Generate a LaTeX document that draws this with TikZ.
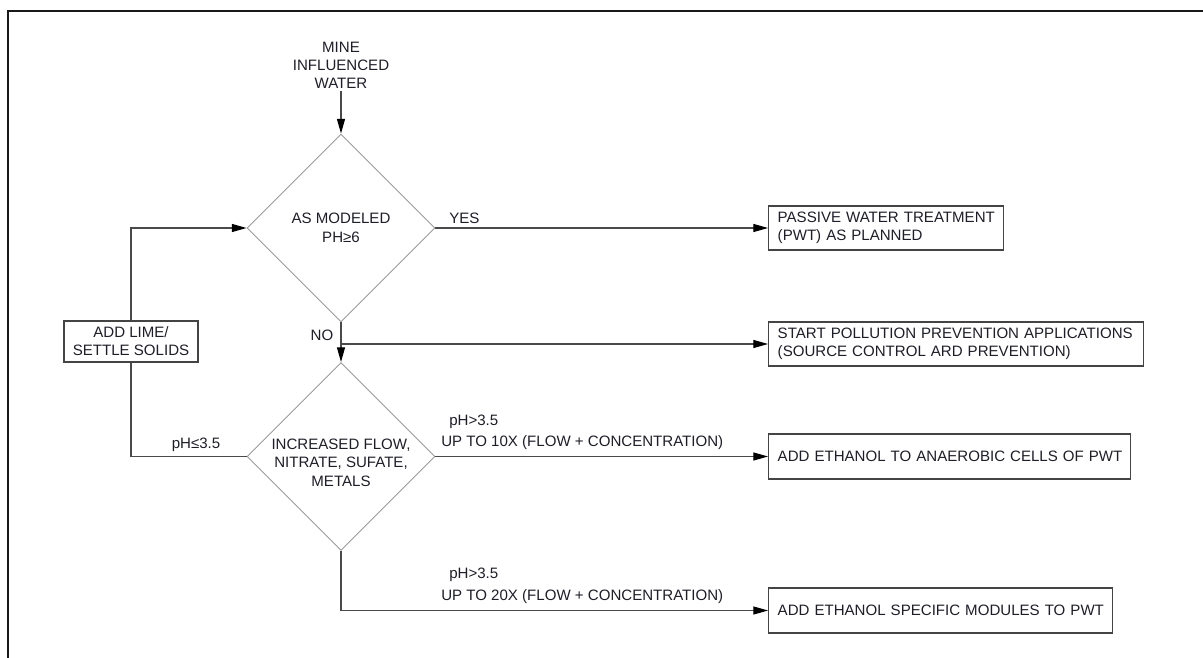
\documentclass[tikz,border=0pt]{standalone}
\usepackage{fontspec}
\setmainfont{Liberation Sans}
\usetikzlibrary{shapes.geometric,arrows.meta,positioning}

\definecolor{boxgray}{HTML}{444444}
\definecolor{diagray}{HTML}{9A9A9A}
\definecolor{linegray}{HTML}{4A4A4A}
\definecolor{txt}{HTML}{1E1E28}

\newcommand{\oneline}[1]{\mbox{#1}}

\tikzset{
	every node/.style={font=\fontsize{11.3}{13.5}\selectfont, text=txt},
	decision/.style={diamond, aspect=1, draw=diagray, line width=0.7pt, minimum width=141pt, minimum height=141pt, inner sep=0pt},
	dtext/.style={align=center, inner sep=0pt, font=\fontsize{11.3}{13.9}\selectfont},
	actbox/.style={draw=boxgray, line width=1.1pt, anchor=west, align=left, inner xsep=6.75pt, minimum height=33pt},
	limebox/.style={draw=boxgray, line width=1.1pt, align=center, minimum width=100.5pt, minimum height=30.75pt, inner sep=0pt},
	lbl/.style={inner sep=0pt},
	conn/.style={draw=linegray, line width=0.9pt},
	flow/.style={conn, -{Triangle[length=11pt, width=6pt, color=black]}}
}

\begin{document}
\begin{tikzpicture}[x=0.75pt, y=-0.75pt]
	\useasboundingbox (0, 0) rectangle (1203, 657);
	\draw[line width=1.6pt, draw=black!90] (8, 660) -- (8, 11) -- (1206, 11);

	% Instances/Symbols:
	\node[align=center, inner sep=2pt] (miw) at (341, 65) {MINE\\INFLUENCED\\WATER};

	\node[decision] (d1) at (341, 228) {};
	\node[dtext] (d1t) at (341, 228) {AS MODELED\\PH≥6};

	\node[decision] (d2) at (341, 456.5) {};
	\node[dtext] (d2t) at (341, 462.5) {INCREASED FLOW,\\NITRATE, SUFATE,\\METALS};

	\node[limebox] (lime) at (131, 341.5) {ADD LIME/\\SETTLE SOLIDS};

	\node[actbox, text width=162.75pt] (pwt) at (768, 228)
		{\oneline{PASSIVE WATER TREATMENT}\\\oneline{(PWT) AS PLANNED}};
	\node[actbox, text width=267.75pt] (prev) at (768, 344)
		{\oneline{START POLLUTION PREVENTION APPLICATIONS}\\\oneline{(SOURCE CONTROL ARD PREVENTION)}};
	\node[actbox, text width=258pt, minimum height=33.75pt] (anaer) at (768, 456.5)
		{\oneline{ADD ETHANOL TO ANAEROBIC CELLS OF PWT}};
	\node[actbox, text width=244.5pt, minimum height=33.75pt] (modul) at (768, 610.5)
		{\oneline{ADD ETHANOL SPECIFIC MODULES TO PWT}};

	\coordinate (nobr) at (341, 344);

	% Lines:
	\draw[flow] (miw.south) -- (d1.north);
	\draw[flow] (d1.east) -- (pwt.west);
	\draw[flow] (d1.south) -- (d2.north);
	\draw[flow] (nobr) -- (prev.west);
	\draw[conn] (d2.west) -| (lime.south);
	\draw[flow] (lime.north) |- (d1.west);
	\draw[flow] (d2.east) -- (anaer.west);
	\draw[flow] (d2.south) |- (modul.west);

	% Labels
	\node[lbl, anchor=west] (yes) at (449, 218) {YES};
	\node[lbl] (no) at (322, 335) {NO};
	\node[lbl] (low) at (196, 445) {pH≤3.5};
	\node[lbl, anchor=west] (hi1) at (449, 422) {pH>3.5};
	\node[lbl, anchor=west] (up10) at (441, 443) {UP TO 10X (FLOW + CONCENTRATION)};
	\node[lbl, anchor=west] (hi2) at (449, 575) {pH>3.5};
	\node[lbl, anchor=west] (up20) at (441, 597) {UP TO 20X (FLOW + CONCENTRATION)};

\end{tikzpicture}
\end{document}
